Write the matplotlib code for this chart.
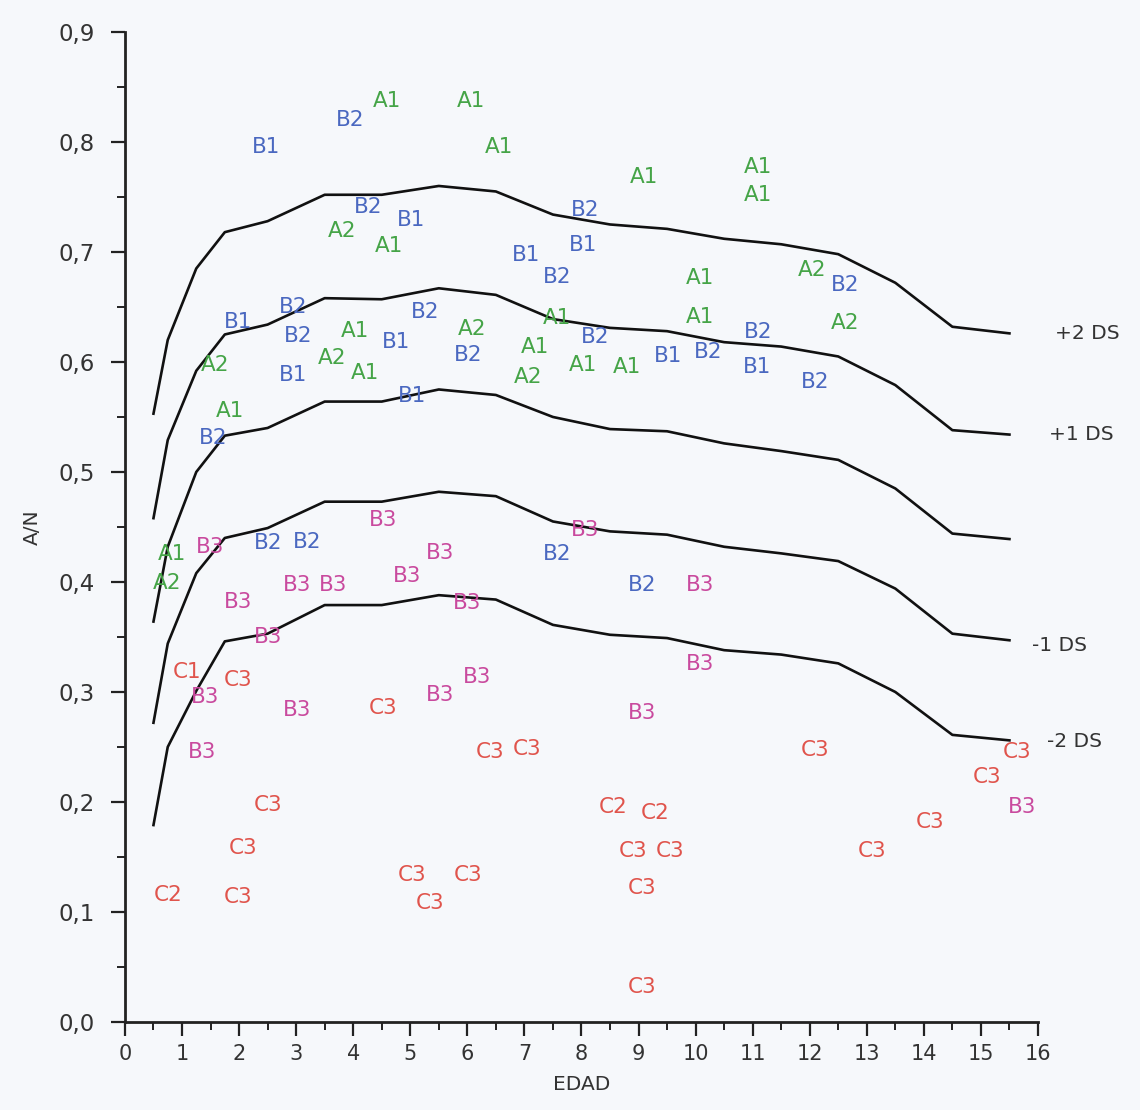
import matplotlib
matplotlib.use("Agg")
import matplotlib.pyplot as plt
from matplotlib.ticker import MultipleLocator, FuncFormatter

# reference curves (EDAD vs A/N)
edad = [0.5, 0.75, 1.25, 1.75, 2.5, 3.5, 4.5, 5.5, 6.5, 7.5, 8.5, 9.5, 10.5, 11.5, 12.5, 13.5, 14.5, 15.5]
plus2 = [0.553, 0.620, 0.685, 0.718, 0.728, 0.752, 0.752, 0.760, 0.755, 0.734, 0.725, 0.721, 0.712, 0.707, 0.698, 0.672, 0.632, 0.626]
plus1 = [0.458, 0.529, 0.592, 0.625, 0.634, 0.658, 0.657, 0.667, 0.661, 0.639, 0.631, 0.628, 0.618, 0.614, 0.605, 0.579, 0.538, 0.534]
media = [0.364, 0.432, 0.500, 0.533, 0.540, 0.564, 0.564, 0.575, 0.570, 0.550, 0.539, 0.537, 0.526, 0.519, 0.511, 0.485, 0.444, 0.439]
minus1 = [0.272, 0.344, 0.408, 0.440, 0.449, 0.473, 0.473, 0.482, 0.478, 0.455, 0.446, 0.443, 0.432, 0.426, 0.419, 0.394, 0.353, 0.347]
minus2 = [0.179, 0.250, 0.301, 0.346, 0.353, 0.379, 0.379, 0.388, 0.384, 0.361, 0.352, 0.349, 0.338, 0.334, 0.326, 0.300, 0.261, 0.256]

curve_names = ["+2 DS", "+1 DS", "-1 DS", "-2 DS"]
curve_name_x = [16.3, 16.2, 15.9, 16.15]
curve_name_y = [0.626, 0.534, 0.342, 0.255]

# group A (green)
a_lab = ["A1", "A1", "A1", "A2", "A1", "A1", "A1", "A1", "A1", "A2", "A2", "A1", "A2",
         "A1", "A1", "A2", "A2", "A1", "A1", "A2", "A1", "A1", "A1", "A1", "A2"]
a_x = [4.59, 6.06, 6.55, 3.80, 4.63, 9.10, 11.09, 11.09, 10.08, 12.04, 12.62, 4.03, 6.08,
       7.57, 10.08, 1.58, 3.63, 4.21, 7.19, 7.06, 8.03, 8.80, 1.84, 0.82, 0.74]
a_y = [0.837, 0.837, 0.795, 0.719, 0.705, 0.768, 0.777, 0.752, 0.676, 0.684, 0.635, 0.628, 0.630,
       0.640, 0.641, 0.597, 0.604, 0.590, 0.614, 0.586, 0.597, 0.595, 0.555, 0.425, 0.399]

# group B1/B2 (blue)
b_lab = ["B1", "B2", "B2", "B1", "B2", "B1", "B1", "B2", "B2", "B1", "B2", "B2", "B2", "B2",
         "B2", "B1", "B1", "B2", "B1", "B2", "B1", "B2", "B1", "B2", "B2", "B2", "B2", "B2"]
b_x = [2.47, 3.94, 4.26, 5.01, 8.06, 8.03, 7.03, 7.57, 12.62, 1.98, 2.94, 3.03, 5.26, 8.24,
       11.09, 2.94, 4.75, 6.01, 9.52, 10.22, 11.08, 12.09, 5.03, 1.54, 2.51, 3.19, 7.57, 9.06]
b_y = [0.795, 0.820, 0.741, 0.729, 0.738, 0.706, 0.697, 0.677, 0.670, 0.636, 0.650, 0.624, 0.645, 0.623,
       0.627, 0.588, 0.618, 0.606, 0.605, 0.609, 0.595, 0.582, 0.569, 0.531, 0.435, 0.436, 0.425, 0.397]

# group B3 (magenta)
b3_x = [1.49, 4.52, 5.52, 4.94, 3.01, 3.65, 1.98, 5.99, 2.51, 8.06, 10.08, 10.08, 1.40, 3.01,
        5.52, 6.17, 1.35, 9.06, 15.72]
b3_y = [0.432, 0.456, 0.426, 0.405, 0.397, 0.397, 0.382, 0.381, 0.350, 0.447, 0.397, 0.325, 0.295, 0.284,
        0.297, 0.314, 0.245, 0.281, 0.195]

# group C (red)
c_lab = ["C1", "C3", "C3", "C3", "C3", "C3", "C3", "C3", "C3", "C3", "C2", "C2", "C3", "C3",
         "C3", "C3", "C3", "C3", "C2", "C3", "C3", "C3", "C3"]
c_x = [1.09, 1.98, 4.52, 6.40, 7.05, 12.09, 15.63, 15.11, 14.11, 13.09, 8.55, 9.29, 8.90, 9.55,
       9.06, 9.06, 2.51, 2.07, 0.75, 1.98, 5.03, 6.01, 5.35]
c_y = [0.318, 0.311, 0.285, 0.245, 0.248, 0.247, 0.245, 0.223, 0.182, 0.155, 0.195, 0.190, 0.155, 0.155,
       0.122, 0.032, 0.197, 0.158, 0.115, 0.114, 0.134, 0.134, 0.108]

GREEN = "#45a447"
BLUE = "#4a68c0"
MAGENTA = "#c94a9e"
RED = "#e0544c"
BG = "#f6f8fb"

fig = plt.figure(figsize=(11.4, 11.1), dpi=100, facecolor=BG)
ax = fig.add_axes([0.1096, 0.0793, 0.8009, 0.8919], facecolor=BG)

for curve in (plus2, plus1, media, minus1, minus2):
    ax.plot(edad, curve, color="#111111", lw=1.9, solid_joinstyle="round")

for name, x, y in zip(curve_names, curve_name_x, curve_name_y):
    ax.text(x, y, name, fontsize=14.5, color="#333333", ha="left", va="center", clip_on=False)

label_kw = dict(fontsize=15.5, ha="center", va="center", clip_on=False)
for lab, x, y in zip(a_lab, a_x, a_y):
    ax.text(x, y, lab, color=GREEN, **label_kw)
for lab, x, y in zip(b_lab, b_x, b_y):
    ax.text(x, y, lab, color=BLUE, **label_kw)
for x, y in zip(b3_x, b3_y):
    ax.text(x, y, "B3", color=MAGENTA, **label_kw)
for lab, x, y in zip(c_lab, c_x, c_y):
    ax.text(x, y, lab, color=RED, **label_kw)

ax.set_xlim(0, 16)
ax.set_ylim(0, 0.9)
ax.spines["top"].set_visible(False)
ax.spines["right"].set_visible(False)
for s in ("left", "bottom"):
    ax.spines[s].set_linewidth(2)
    ax.spines[s].set_color("#222222")

ax.xaxis.set_major_locator(MultipleLocator(1))
ax.xaxis.set_minor_locator(MultipleLocator(0.5))
ax.yaxis.set_major_locator(MultipleLocator(0.1))
ax.yaxis.set_minor_locator(MultipleLocator(0.05))
ax.yaxis.set_major_formatter(FuncFormatter(lambda v, p: f"{v:.1f}".replace(".", ",")))
ax.tick_params(axis="both", which="major", length=10, width=1.6, color="#222222",
               labelsize=15, labelcolor="#333333")
ax.tick_params(axis="y", which="major", labelsize=16.5, pad=12)
ax.tick_params(axis="both", which="minor", length=6, width=1.4, color="#222222")
ax.tick_params(axis="x", which="major", pad=6)

ax.set_xlabel("EDAD", fontsize=14.5, color="#333333", labelpad=8)
ax.set_ylabel("A/N", fontsize=14.5, color="#333333", labelpad=12)

fig.savefig("out.png", dpi=100, facecolor=BG)
